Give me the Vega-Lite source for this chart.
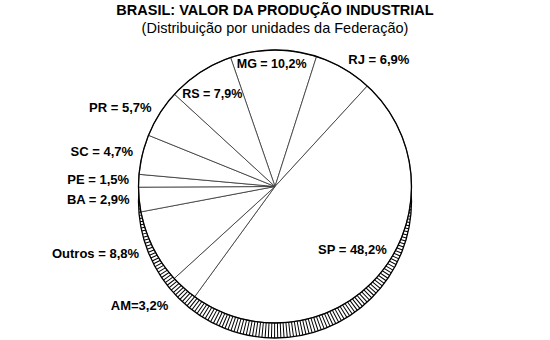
{
  "$schema": "https://vega.github.io/schema/vega-lite/v6.json",
  "width": 550,
  "height": 340,
  "autosize": {"type": "fit", "contains": "padding"},
  "padding": {"top": 3, "bottom": 5, "left": 0, "right": 0},
  "background": "white",
  "title": {
    "text": "BRASIL: VALOR DA PRODUÇÃO INDUSTRIAL",
    "subtitle": "(Distribuição por unidades da Federação)",
    "font": "Liberation Sans",
    "fontSize": 14.5,
    "fontWeight": "bold",
    "color": "#000",
    "subtitleFont": "Liberation Sans",
    "subtitleFontSize": 14.5,
    "subtitleColor": "#000",
    "anchor": "middle",
    "offset": 6,
    "subtitlePadding": 3
  },
  "config": {"view": {"stroke": null}},
  "data": {
    "values": [
      {"uf": "MG", "share": 10.2, "label": "MG = 10,2%"},
      {"uf": "RJ", "share": 6.9, "label": "RJ = 6,9%"},
      {"uf": "SP", "share": 48.2, "label": "SP = 48,2%"},
      {"uf": "AM", "share": 3.2, "label": "AM=3,2%"},
      {"uf": "Outros", "share": 8.8, "label": "Outros = 8,8%"},
      {"uf": "BA", "share": 2.9, "label": "BA = 2,9%"},
      {"uf": "PE", "share": 1.5, "label": "PE = 1,5%"},
      {"uf": "SC", "share": 4.7, "label": "SC = 4,7%"},
      {"uf": "PR", "share": 5.7, "label": "PR = 5,7%"},
      {"uf": "RS", "share": 7.9, "label": "RS = 7,9%"}
    ]
  },
  "transform": [{"window": [{"op": "row_number", "as": "rank"}]}],
  "layer": [
    {
      "transform": [{"aggregate": [{"op": "count", "as": "n"}]}],
      "mark": {"type": "arc", "theta": 0, "theta2": 6.2832, "outerRadius": 129, "fill": null, "stroke": "#000", "strokeWidth": 15, "strokeDash": [1, 2], "yOffset": 15},
      "encoding": {}
    },
    {
      "transform": [{"aggregate": [{"op": "count", "as": "n"}]}],
      "mark": {"type": "arc", "theta": 0, "theta2": 6.2832, "outerRadius": 136.5, "fill": null, "stroke": "#000", "strokeWidth": 1.3, "yOffset": 15},
      "encoding": {}
    },
    {
      "mark": {"type": "arc", "outerRadius": 136.5, "fill": "#fff", "stroke": "#333", "strokeWidth": 0.8},
      "encoding": {
        "theta": {"field": "share", "type": "quantitative", "stack": true, "scale": {"range": [-0.3316, 5.9516]}},
        "order": {"field": "rank", "type": "quantitative"}
      }
    },
    {
      "transform": [{"aggregate": [{"op": "count", "as": "n"}]}],
      "mark": {"type": "arc", "theta": 0, "theta2": 6.2832, "outerRadius": 136.5, "fill": null, "stroke": "#000", "strokeWidth": 1.3},
      "encoding": {}
    },
    {
      "mark": {
        "type": "text",
        "font": "Liberation Sans",
        "fontWeight": "bold",
        "color": "#000",
        "baseline": "middle",
        "fontSize": {"expr": "datum.uf == 'MG' || datum.uf == 'RS' ? 12.5 : 13"},
        "radius": {"expr": "datum.uf == 'AM' ? 160 : datum.uf == 'Outros' ? 152 : indexof(['PR','SC','PE','BA'], datum.uf) >= 0 ? 146 : datum.uf == 'SP' ? 100 : datum.uf == 'RJ' ? 146 : datum.uf == 'RS' ? 111 : 123"},
        "align": {"expr": "indexof(['PR','SC','PE','BA','Outros','AM'], datum.uf) >= 0 ? 'right' : datum.uf == 'RJ' ? 'left' : 'center'"},
        "dx": {"expr": "datum.uf == 'RS' ? -2 : datum.uf == 'MG' ? -2 : 0"}
      },
      "encoding": {
        "theta": {"field": "share", "type": "quantitative", "stack": true, "scale": {"range": [-0.3316, 5.9516]}},
        "order": {"field": "rank", "type": "quantitative"},
        "text": {"field": "label", "type": "nominal"}
      }
    }
  ]
}
